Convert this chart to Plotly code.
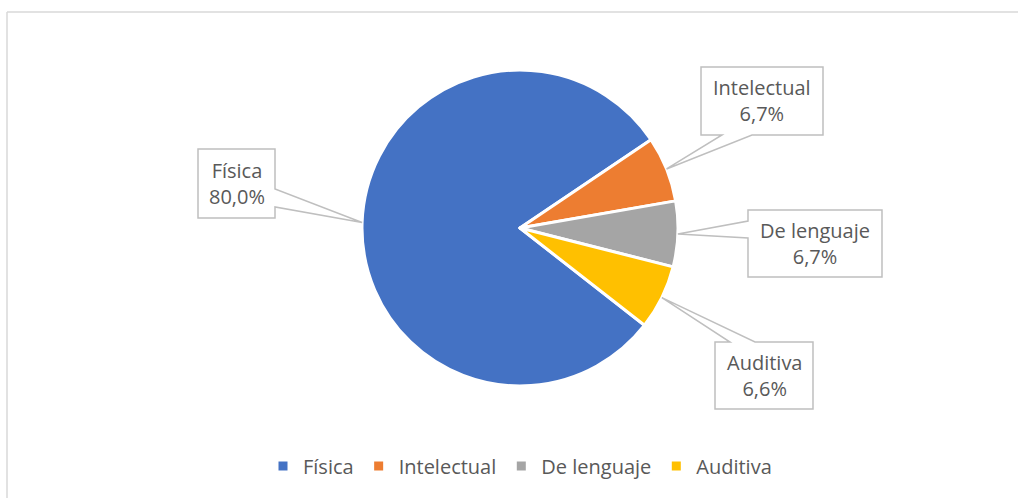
import math
import plotly.graph_objects as go

categories = ["Física", "Intelectual", "De lenguaje", "Auditiva"]
values = [80.0, 6.7, 6.7, 6.6]
colors = ["#4472C4", "#ED7D31", "#A5A5A5", "#FFC000"]

W, H = 1018, 498
# pie geometry (pixels)
CX, CY, R = 520, 228, 158
ROTATION = 128

# callout boxes (pixels): left, top, right, bottom, side of pointer base, base start, base end
boxes = [
    (198, 149, 275, 218, "right", 189, 207),
    (701, 67, 823, 135, "bottom", 722, 752),
    (748, 210, 882, 277, "left", 221, 238),
    (715, 342, 813, 409, "top", 730, 755),
]

def px(x):
    return x / W

def py(y):
    return 1 - y / H

fig = go.Figure(go.Pie(
    labels=categories,
    values=values,
    marker=dict(colors=colors, line=dict(color="white", width=3)),
    sort=False,
    direction="clockwise",
    rotation=ROTATION,
    textinfo="none",
    hoverinfo="label+percent",
    domain=dict(x=[px(CX - R), px(CX + R)], y=[py(CY + R), py(CY - R)]),
))

shapes = []
annotations = []
total = sum(values)
cum = 0.0
for cat, v, (l, t, r, b, side, s0, s1) in zip(categories, values, boxes):
    mid = ROTATION + (cum + v / 2) / total * 360
    cum += v
    a = math.radians(mid)
    tx = CX + R * math.sin(a)
    ty = CY - R * math.cos(a)
    pts = [(l, t)]
    if side == "top":
        pts += [(s0, t), (tx, ty), (s1, t)]
    pts += [(r, t)]
    if side == "right":
        pts += [(r, s0), (tx, ty), (r, s1)]
    pts += [(r, b)]
    if side == "bottom":
        pts += [(s1, b), (tx, ty), (s0, b)]
    pts += [(l, b)]
    if side == "left":
        pts += [(l, s1), (tx, ty), (l, s0)]
    path = "M " + " L ".join(f"{px(x):.5f},{py(y):.5f}" for x, y in pts) + " Z"
    shapes.append(dict(type="path", path=path, xref="paper", yref="paper",
                       fillcolor="white", line=dict(color="#BFBFBF", width=1.5)))
    pct = f"{v:.1f}".replace(".", ",") + "%"
    annotations.append(dict(
        x=px((l + r) / 2), y=py((t + b) / 2), xref="paper", yref="paper",
        text=f"{cat}<br>{pct}", showarrow=False, xanchor="center", yanchor="middle",
        font=dict(size=20, color="#595959", family="Open Sans"), align="center"))

# chart area border (top and left visible)
shapes.append(dict(type="line", xref="paper", yref="paper", x0=px(7), y0=py(12), x1=1.01, y1=py(12),
                   line=dict(color="#D9D9D9", width=1.5)))
shapes.append(dict(type="line", xref="paper", yref="paper", x0=px(7), y0=py(12), x1=px(7), y1=-0.01,
                   line=dict(color="#D9D9D9", width=1.5)))

fig.update_layout(
    width=W, height=H,
    margin=dict(l=0, r=0, t=0, b=0),
    paper_bgcolor="white", plot_bgcolor="white",
    shapes=shapes, annotations=annotations,
    showlegend=True,
    legend=dict(orientation="h", x=px(520), xanchor="center", y=py(466), yanchor="middle",
                font=dict(size=20, color="#595959", family="Open Sans"),
                itemwidth=30, traceorder="normal"),
    font=dict(family="Open Sans"),
)

fig.write_html("out.html", config={"displayModeBar": False},
               post_script="document.body.style.margin='0';document.body.style.overflow='hidden';")
